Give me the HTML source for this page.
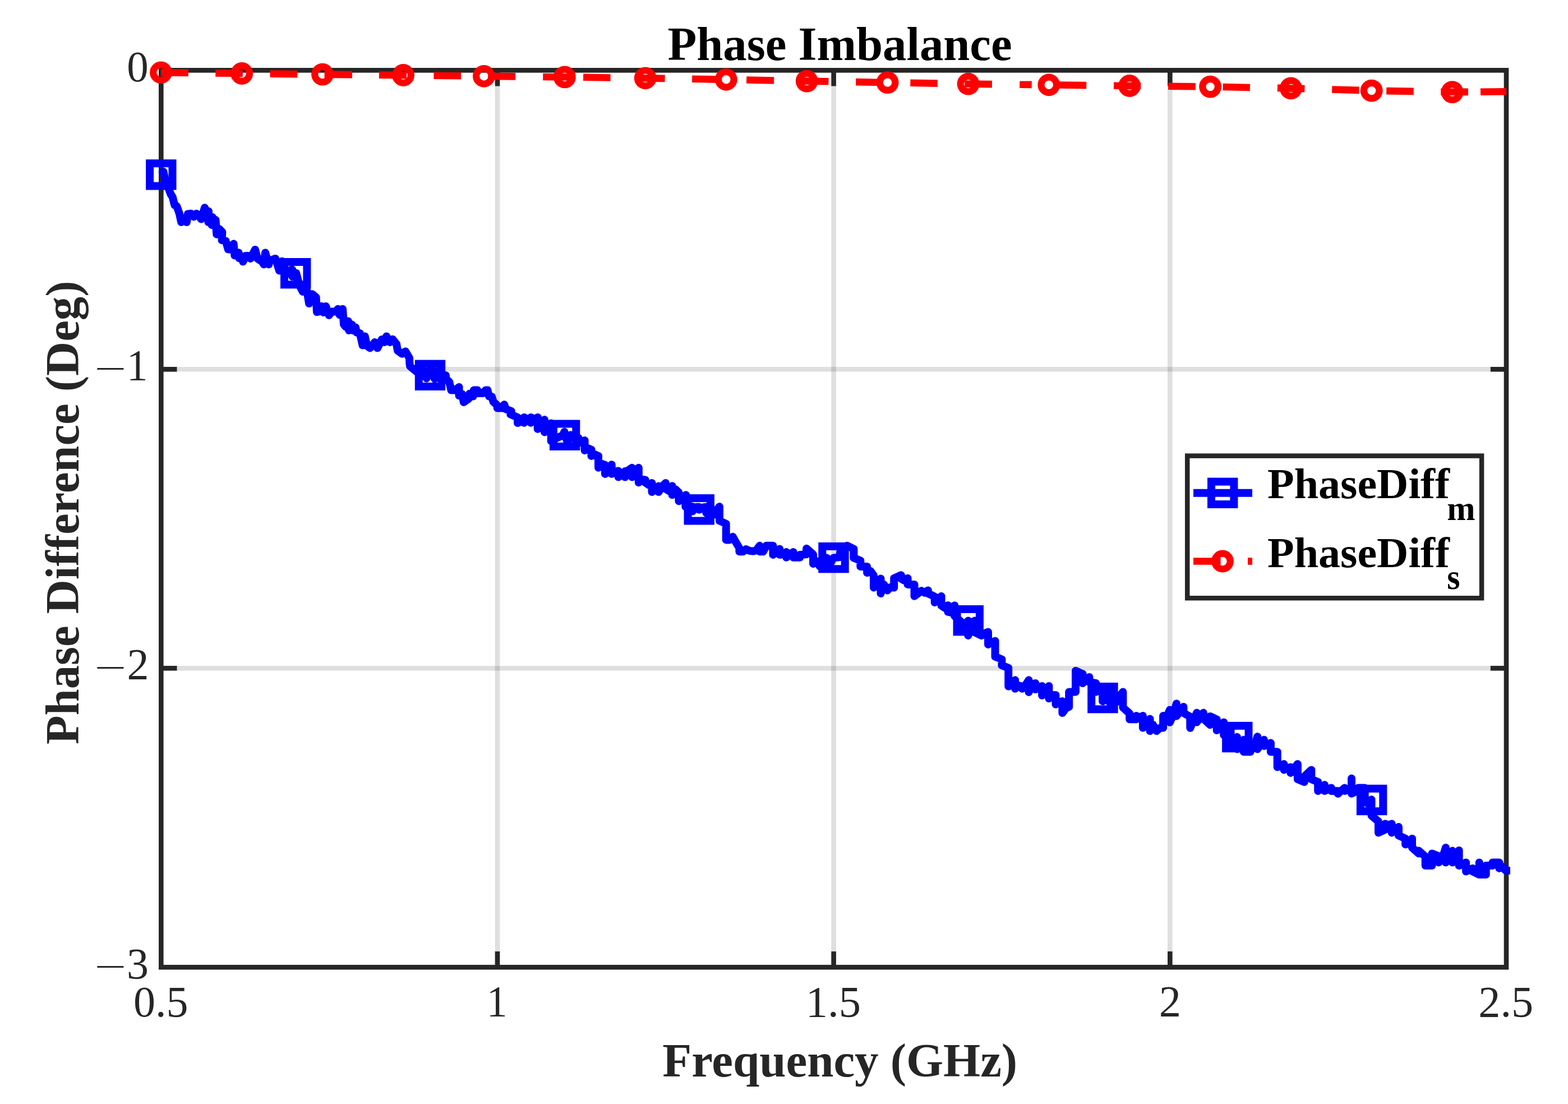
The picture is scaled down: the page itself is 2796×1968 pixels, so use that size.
<!DOCTYPE html>
<html lang="en"><head><meta charset="utf-8"><title>Phase Imbalance</title>
<style>html,body{margin:0;padding:0;background:#fff}svg{display:block}text{font-family:"Liberation Serif","DejaVu Serif",serif}</style></head><body>
<svg width="2796" height="1968" viewBox="0 0 2796 1968" role="img" aria-label="Phase Imbalance chart">
<rect width="2796" height="1968" fill="#fff"/>
<g stroke="#262626" stroke-opacity="0.15" stroke-width="8.6" fill="none">
<line x1="887" y1="125.3" x2="887" y2="1724.2"/>
<line x1="1486.6" y1="125.3" x2="1486.6" y2="1724.2"/>
<line x1="2086.3" y1="125.3" x2="2086.3" y2="1724.2"/>
<line x1="287.3" y1="658.3" x2="2686.0" y2="658.3"/>
<line x1="287.3" y1="1191.2" x2="2686.0" y2="1191.2"/>
</g>
<g stroke="#262626" stroke-width="8.6" fill="none">
<rect x="287.3" y="125.3" width="2398.7" height="1598.9"/>
<line x1="887" y1="1724.2" x2="887" y2="1696"/>
<line x1="887" y1="125.3" x2="887" y2="153.5"/>
<line x1="1486.6" y1="1724.2" x2="1486.6" y2="1696"/>
<line x1="1486.6" y1="125.3" x2="1486.6" y2="153.5"/>
<line x1="2086.3" y1="1724.2" x2="2086.3" y2="1696"/>
<line x1="2086.3" y1="125.3" x2="2086.3" y2="153.5"/>
<line x1="287.3" y1="658.3" x2="315.5" y2="658.3"/>
<line x1="2686.0" y1="658.3" x2="2657.8" y2="658.3"/>
<line x1="287.3" y1="1191.2" x2="315.5" y2="1191.2"/>
<line x1="2686.0" y1="1191.2" x2="2657.8" y2="1191.2"/>
</g>
<polyline points="289.7,306.5 291.4,306 293.5,316 300.5,335.5 304.4,346 307.8,351.5 311.3,365.5 315.2,367.6 319.7,380.1 323.2,396.1 328,389.2 332.9,396.1 335,381.5 340.6,380.8 345.5,386.4 350.3,380.8 354.5,384.3 358.7,390.6 365,370.3 368.5,378.7 372,376.6 371.5,396.1 378.9,387.1 377.5,401 384.5,392 386.3,417.7 390.8,408 396.3,413.6 395.6,428.2 402.6,429.6 406.8,444.2 411.7,444.9 416.6,434.5 418.4,455.4 425.6,450.5 426.3,460.2 431.2,456.8 433.3,466.5 438.2,456.1 442.3,456.1 446.5,460.9 454.9,444.9 459.1,460.9 467.4,466.5 470.6,471.4 473,450.5 479.3,471.4 480,465.7 485.6,463 491.1,460.9 498.1,482.5 503,465.7 507.9,492.2 514.8,482.5 521.1,480.4 521.8,493.6 528.1,486.7 533.7,507.6 539.9,520.1 546.9,515.9 551.1,541 556.7,524.3 563.6,529.9 565,556.3 570.6,554.9 572.7,545.9 576.9,557 581,545.9 586.6,561.9 591.5,555.6 598.5,555.6 602.6,550.8 605.4,561.2 611,550.8 613.1,578.6 616.6,582.8 620.8,572.4 622.2,589.1 627.7,578.6 629.8,589.1 634,583.5 636.1,592.6 641.7,594 646.6,615.6 650.7,599.5 654.2,616.3 659.8,620.5 668.2,610 673,620.5 680.7,605.1 685.6,610 689.1,599.5 695.3,610 700,604.8 707,613.2 709.1,625.1 716.7,630.6 723,626.4 730,638.3 730.4,647.9 731.1,652.8 742.9,662.5 748.8,660.6 754.6,660.3 760.6,674.5 766.6,659.5 771.1,660 775,675.4 780.4,662 786.1,667.3 794.8,669 795.6,675.8 801.2,680.7 804.5,695.4 811.5,695.4 818.5,689.9 818.5,705.2 824,702.4 826.8,717 835.9,710.8 837.3,701.7 843.6,706.6 844.9,695.4 851.2,695.4 853.3,701 861.7,701 865.9,695.4 869.3,695.4 872.1,706.6 877,707.3 879.8,716.3 886.8,722.6 886.8,727.5 895.1,727.5 899.3,721.2 901.4,728.9 911.8,733.1 910.5,738.6 923,744.2 923,754 930,751.2 934.6,753.7 934.6,743.9 940.9,748.8 946.5,753.7 946.5,743.9 952.8,747.4 959,743.9 958.7,764.8 964.6,759.9 970.9,748.1 970.9,770.4 977.1,765.5 982.7,754.4 982.7,786.4 992.5,780.8 1003.6,776 1006.4,769.7 1012,789.2 1017.6,775.3 1025.9,778 1031.5,780.8 1035.7,789.2 1042.6,785 1042.6,803.1 1048.2,799 1054.5,801.7 1054.5,812.9 1060.8,810.1 1067,812.9 1067,833.8 1073.3,826.8 1078.9,828.9 1078.9,844.9 1085.2,839.4 1090.7,828.2 1090.7,844.9 1097,840.8 1102.6,839.4 1102.6,850.5 1108.9,846.3 1114.4,840.1 1114.4,850.5 1120.7,838 1127,833.8 1127,850.5 1132.5,839.4 1138.8,833.8 1138.8,860.3 1144.4,854.7 1150.7,855.4 1150.7,860.3 1156.9,864.5 1162.5,861 1162.5,877 1168.8,872.8 1174.4,866.6 1174.4,877 1180.6,867.2 1186.9,861 1186.9,871.4 1193,875.3 1198.6,866.2 1198.6,882.2 1204.8,872.5 1210.4,878 1210.4,893.4 1216.7,887.8 1223,882.2 1222.3,903.1 1228.5,907.3 1234.8,903.1 1234.8,911.5 1241.1,903.8 1246.7,903.8 1246.7,908.7 1253.6,904.5 1259.2,903.8 1259.2,914.3 1266.2,919.9 1271,918.5 1277.3,910.1 1282.9,903.1 1282.9,928.2 1294.7,933.8 1294.7,962.4 1301,962.4 1306.6,956.8 1312.2,966.6 1318.4,977 1318.4,983.3 1324.7,983.3 1330.3,979.1 1336.6,981.9 1342.8,982.6 1348.4,981.2 1354.7,972.8 1354.7,983.3 1360.9,983.3 1366.5,972.8 1378.4,972.8 1378.4,988.9 1384.6,984 1390.2,978.4 1390.2,988.9 1396.5,988.2 1402.1,984 1402.1,993.7 1408.3,988.2 1414.6,984 1414.6,993.7 1426.4,993.7 1426.4,988.9 1437.8,988.3 1438.1,977.8 1450,988.3 1450,1005 1456.2,1000.1 1461.8,1009.9 1468.1,1011.3 1474.4,994.5 1479.9,1005.7 1486.2,994.5 1498,993.1 1498,984.8 1505,979.2 1510.6,972.9 1522.4,978.5 1522.4,994.5 1534.3,999.4 1534.3,1009.9 1546.1,1009.9 1546.1,1021 1552.4,1018.2 1558,1025.9 1558,1047.5 1564.3,1043.3 1570.5,1031.5 1570.5,1057.9 1576.1,1041.9 1582.4,1052.4 1587.9,1046.8 1594.2,1047.5 1594.2,1030.8 1606.8,1025.2 1606.8,1031.5 1612.3,1034.9 1618.6,1030.8 1618.6,1041.9 1630.5,1041.9 1630.5,1062.8 1643,1053.1 1648.6,1056.6 1654.8,1052.4 1654.8,1057.9 1666.7,1063.5 1666.7,1074 1673,1069.1 1678.5,1062.8 1678.5,1079.5 1684.8,1083.7 1690.4,1078.9 1690.4,1090.7 1696.7,1092.1 1702.1,1079.2 1702.1,1098 1714.6,1109.2 1720.2,1117.6 1726.4,1106.4 1726.4,1132.9 1732.7,1110.6 1738.3,1106.4 1738.3,1127.3 1750.1,1132.9 1756.4,1128.7 1762,1126.6 1762,1148.9 1768.3,1145.4 1774.5,1142.6 1774.5,1170.5 1786.4,1175.4 1786.4,1185.9 1798.2,1190.7 1798.2,1223.5 1804.5,1220.7 1810.1,1212.3 1810.1,1227.7 1816.3,1222.1 1822.6,1223.5 1822.6,1227.7 1828.2,1222.1 1834.5,1212.3 1834.5,1233.9 1840,1222.1 1846.3,1217.9 1846.3,1229.1 1858.1,1222.9 1858.1,1239.7 1864.4,1232 1870.4,1222.9 1870.4,1245.2 1876.2,1239 1882.5,1239 1882.5,1255.7 1888.8,1251.5 1894.4,1250.1 1894.4,1271 1900.6,1262.6 1906.2,1259.9 1906.2,1233.4 1918,1233.4 1918,1195.7 1930.6,1201.3 1930.6,1218 1942.4,1206.9 1942.4,1216 1954.3,1218 1954.3,1233.4 1960.6,1229.2 1966.1,1232 1966.1,1250.1 1972.4,1245.9 1978,1232 1978,1251.5 1984.3,1237.6 1990.5,1240.3 1990.5,1251.5 1996.1,1241.7 2002.4,1233.4 2002.4,1261.3 2014.2,1271.7 2014.2,1282.2 2026.1,1282.2 2026.1,1275.9 2032.3,1279.4 2037.9,1275.9 2037.9,1297.5 2044.2,1290.5 2050.5,1281.5 2050.5,1303.1 2056,1291.9 2062.3,1303.1 2068.6,1297.5 2074.1,1297.5 2074.1,1275.9 2080.4,1278 2086,1265.4 2086,1287.7 2092.3,1273.8 2097.8,1254.3 2097.8,1276.6 2104.1,1268.2 2110.4,1259.9 2110.4,1271 2122.2,1277.6 2122.3,1297.8 2134.1,1270.6 2134.1,1287.4 2146,1270.6 2146,1281.1 2157.8,1292.2 2157.8,1276.9 2169.7,1282.5 2169.7,1302 2176,1293.6 2182.2,1287.4 2182.2,1310.3 2188.1,1300.6 2194.5,1295 2194.5,1328.5 2200.1,1321.5 2205.9,1313.8 2205.9,1335.4 2217.8,1318.7 2217.8,1340.3 2229.6,1340.3 2229.6,1327.1 2235.9,1334 2242.2,1313.1 2242.2,1335.4 2247.7,1327.1 2254,1318.7 2254,1329.9 2265.9,1324.3 2265.9,1340.3 2277.7,1340.3 2277.7,1367.5 2289.5,1361.9 2289.5,1372.4 2301.4,1367.5 2301.4,1377.9 2313.9,1361.9 2313.9,1389.1 2325.8,1394 2325.8,1384.2 2338.3,1372.4 2338.3,1389.1 2350.2,1394 2350.2,1410 2356.4,1405.1 2362,1398.9 2362,1410 2373.9,1404.4 2373.9,1410 2385.7,1410 2385.7,1414.9 2392,1409.3 2397.8,1404.4 2397.8,1409.9 2410,1405.1 2410,1387.6 2410,1414.8 2421.8,1409.2 2421.8,1404.4 2433.7,1404.4 2433.7,1428 2439.9,1433.6 2445.5,1425.3 2445.5,1453.8 2458,1464.3 2458,1484.5 2469.9,1478.9 2469.9,1468.5 2476.2,1471.3 2481.7,1468.5 2481.7,1484.5 2488,1479.6 2494,1474 2494,1489.4 2506.1,1494.9 2506.1,1505.4 2512.4,1503.3 2518,1494.9 2518,1511 2529.8,1521.4 2529.8,1516.6 2541.7,1527 2541.7,1543 2553.5,1543 2553.5,1521.4 2565.4,1526.3 2565.4,1537.5 2571.6,1531.2 2577.9,1511 2577.9,1537.5 2584.2,1524.2 2589.8,1516.6 2589.8,1537.5 2596,1524.2 2601.6,1515.9 2601.6,1543 2607.9,1540.9 2614.1,1537.5 2614.1,1553.5 2619.7,1550.7 2626,1547.9 2626,1553.5 2637.8,1559.1 2637.8,1537.5 2637.8,1559.1 2649.7,1559.1 2649.7,1543 2661.5,1543 2661.5,1537.5 2673.4,1537.5 2673.4,1547.9 2679.7,1545.1 2684.5,1551.4" fill="none" stroke="#0000ff" stroke-width="14" stroke-linejoin="round" stroke-linecap="round"/>
<line x1="2683.5" y1="1552" x2="2692.9" y2="1552" stroke="#0000ff" stroke-width="13.6"/>
<g fill="none" stroke="#0000ff" stroke-width="14">
<rect x="267.1" y="291.2" width="40.4" height="40.4"/>
<rect x="507" y="467" width="40.4" height="40.4"/>
<rect x="746.8" y="648.6" width="40.4" height="40.4"/>
<rect x="986.9" y="755.5" width="40.4" height="40.4"/>
<rect x="1226.5" y="888.1" width="40.4" height="40.4"/>
<rect x="1466.3" y="973.9" width="40.4" height="40.4"/>
<rect x="1706.5" y="1085.9" width="40.4" height="40.4"/>
<rect x="1946.2" y="1223.9" width="40.4" height="40.4"/>
<rect x="2186.1" y="1293.8" width="40.4" height="40.4"/>
<rect x="2425.9" y="1405.8" width="40.4" height="40.4"/>
</g>
<g fill="none" stroke="#ff0000" stroke-width="12.6">
<line x1="287" y1="129.3" x2="335.8" y2="129.9"/>
<line x1="384.3" y1="130.4" x2="432.8" y2="131"/>
<line x1="481.6" y1="131.6" x2="530.4" y2="132.1"/>
<line x1="578.6" y1="132.6" x2="628" y2="133.1"/>
<line x1="675.9" y1="133.6" x2="725" y2="134.1"/>
<line x1="773.4" y1="134.7" x2="822" y2="135.3"/>
<line x1="870.3" y1="135.9" x2="919.1" y2="136.4"/>
<line x1="968.2" y1="137" x2="1016.1" y2="137.5"/>
<line x1="1040.1" y1="137.8" x2="1088.6" y2="138.5"/>
<line x1="1137.4" y1="139.1" x2="1185.6" y2="139.9"/>
<line x1="1234.1" y1="140.7" x2="1282.3" y2="141.6"/>
<line x1="1331.1" y1="142.5" x2="1380.1" y2="143.5"/>
<line x1="1428.6" y1="144.4" x2="1477.5" y2="145.3"/>
<line x1="1526.1" y1="146.1" x2="1574.3" y2="147"/>
<line x1="1623.3" y1="147.8" x2="1671.8" y2="148.6"/>
<line x1="1720.1" y1="149.5" x2="1768.9" y2="150.1"/>
<line x1="1818.2" y1="150.7" x2="1839.7" y2="150.9"/>
<line x1="1888.7" y1="151.5" x2="1937.2" y2="152.1"/>
<line x1="1986" y1="152.7" x2="2034.2" y2="153.2"/>
<line x1="2083.1" y1="153.8" x2="2131.9" y2="154.3"/>
<line x1="2180.7" y1="155" x2="2228.9" y2="156"/>
<line x1="2277.9" y1="156.9" x2="2326.4" y2="158.1"/>
<line x1="2375.2" y1="159.5" x2="2423.4" y2="160.9"/>
<line x1="2472.2" y1="162.1" x2="2520.7" y2="162.9"/>
<line x1="2569.2" y1="163.7" x2="2618" y2="163.9"/>
<line x1="2640" y1="163.7" x2="2686" y2="163.3"/>
</g>
<g fill="none" stroke="#ff0000" stroke-width="12.2">
<circle cx="287" cy="129.3" r="13.8"/>
<circle cx="431.2" cy="131" r="13.8"/>
<circle cx="575" cy="132.6" r="13.8"/>
<circle cx="719.1" cy="134" r="13.8"/>
<circle cx="862.9" cy="135.8" r="13.8"/>
<circle cx="1006.9" cy="137.4" r="13.8"/>
<circle cx="1150.7" cy="139.3" r="13.8"/>
<circle cx="1294.8" cy="141.8" r="13.8"/>
<circle cx="1438.7" cy="144.6" r="13.8"/>
<circle cx="1582.6" cy="147.1" r="13.8"/>
<circle cx="1726.5" cy="149.6" r="13.8"/>
<circle cx="1870.3" cy="151.3" r="13.8"/>
<circle cx="2014.1" cy="153" r="13.8"/>
<circle cx="2158.1" cy="154.6" r="13.8"/>
<circle cx="2301.9" cy="157.4" r="13.8"/>
<circle cx="2445.7" cy="161.6" r="13.8"/>
<circle cx="2589.6" cy="164.1" r="13.8"/>
</g>
<rect x="2117.2" y="812.6" width="524.9" height="253.6" fill="#fff" stroke="#262626" stroke-width="8.5"/>
<line x1="2128" y1="878.8" x2="2233" y2="878.8" stroke="#0000ff" stroke-width="14"/>
<rect x="2160" y="858.6" width="40.4" height="40.4" fill="none" stroke="#0000ff" stroke-width="14"/>
<line x1="2128" y1="1000.5" x2="2176.5" y2="1000.5" stroke="#ff0000" stroke-width="12.6"/>
<line x1="2225" y1="1000.5" x2="2233" y2="1000.5" stroke="#ff0000" stroke-width="12.6"/>
<circle cx="2180" cy="1000.5" r="13.8" fill="none" stroke="#ff0000" stroke-width="12.2"/>
<text id="title" transform="translate(1190.52,106.5) scale(0.9850,0.9889)" font-size="86" fill="#000" font-weight="bold">Phase Imbalance</text>
<text id="xlabel" transform="translate(1181.29,1919.2) scale(1.0111,1.0200)" font-size="84" fill="#262626" font-weight="bold">Frequency (GHz)</text>
<text id="ylabel" transform="translate(140.01,1327.11) rotate(-90) scale(1.0086,1.0034)" font-size="84" fill="#262626" font-weight="bold">Phase Difference (Deg)</text>
<text id="y0" transform="translate(226.21,144.8) scale(0.9618,0.9888)" font-size="80" fill="#262626">0</text>
<g><text id="y1m" transform="translate(168.14,676.73) scale(1.2649,0.7314)" font-size="80" fill="#262626">−</text><text id="y1" transform="translate(226.05,676.5) scale(0.9357,0.9771)" font-size="80" fill="#262626">1</text></g>
<g><text id="y2m" transform="translate(168.14,1209.85) scale(1.2649,0.7314)" font-size="80" fill="#262626">−</text><text id="y2" transform="translate(226.59,1209.6) scale(0.9750,0.9755)" font-size="80" fill="#262626">2</text></g>
<g><text id="y3m" transform="translate(168.14,1742.73) scale(1.2649,0.7314)" font-size="80" fill="#262626">−</text><text id="y3" transform="translate(226,1743.61) scale(0.9757,0.9869)" font-size="80" fill="#262626">3</text></g>
<text id="x05" transform="translate(237.88,1811.72) scale(0.9756,0.9815)" font-size="80" fill="#262626">0.5</text>
<text id="x1" transform="translate(867.78,1810.6) scale(0.9180,0.9695)" font-size="80" fill="#262626">1</text>
<text id="x15" transform="translate(1436.72,1811.71) scale(0.9822,0.9888)" font-size="80" fill="#262626">1.5</text>
<text id="x2" transform="translate(2066.76,1811) scale(0.9813,0.9679)" font-size="80" fill="#262626">2</text>
<text id="x25" transform="translate(2636.27,1811.72) scale(0.9797,0.9815)" font-size="80" fill="#262626">2.5</text>
<text id="l1" transform="translate(2260.1,888.3) scale(1.0000,0.9693)" font-size="78" fill="#000" font-weight="bold">PhaseDiff</text>
<text id="l1s" transform="translate(2580.29,927.3) scale(1.0065,1.0323)" font-size="60" fill="#000" font-weight="bold">m</text>
<text id="l2" transform="translate(2260.1,1010.8) scale(1.0000,0.9693)" font-size="78" fill="#000" font-weight="bold">PhaseDiff</text>
<text id="l2s" transform="translate(2580.31,1049.85) scale(0.9951,1.0702)" font-size="60" fill="#000" font-weight="bold">s</text>
</svg></body></html>
